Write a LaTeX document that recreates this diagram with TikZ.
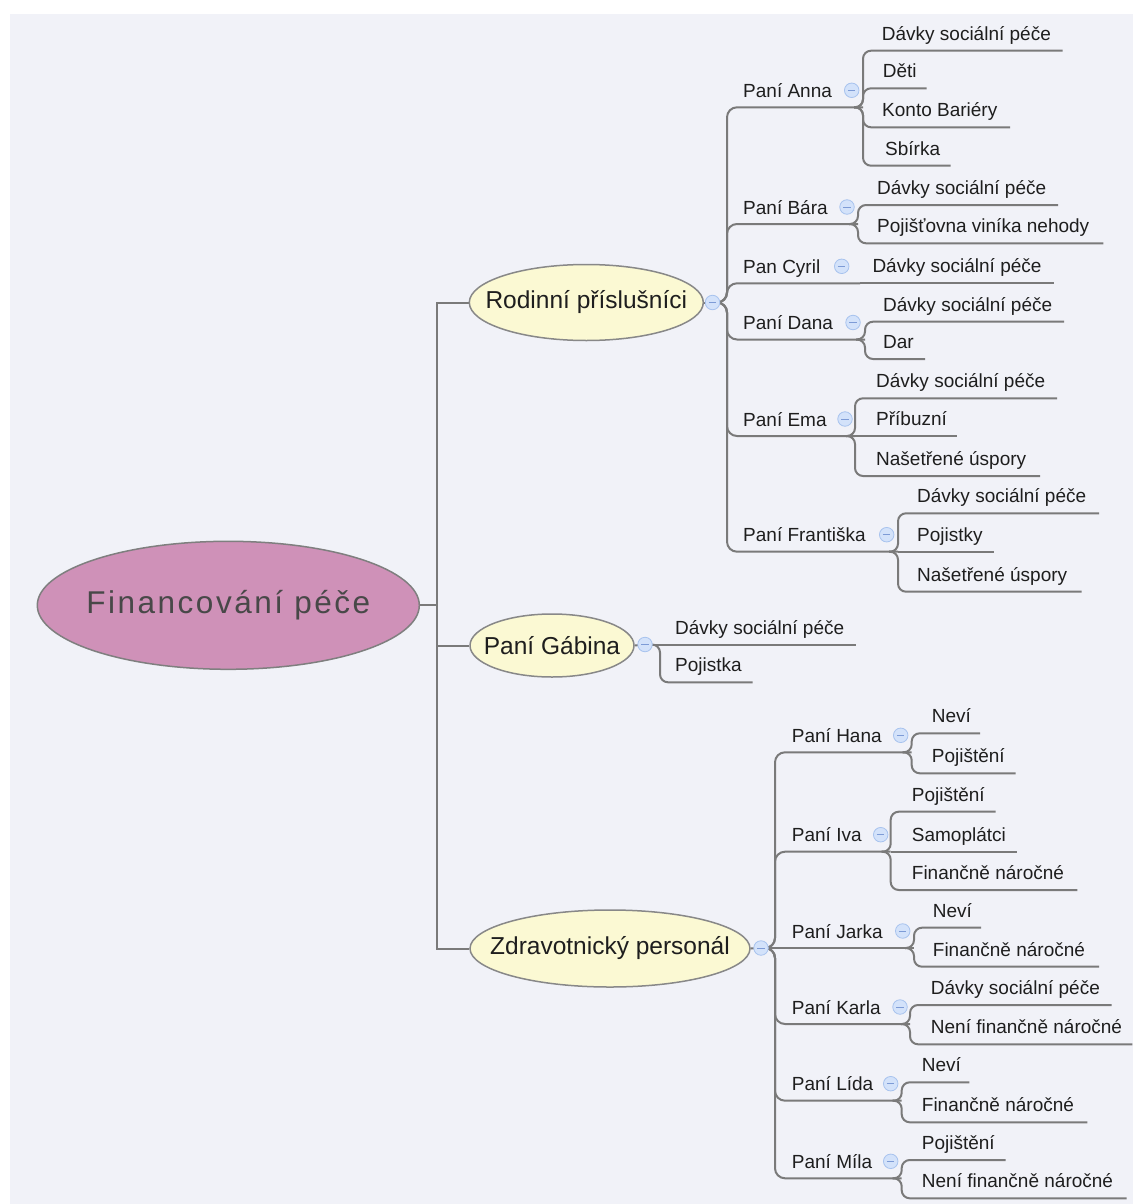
\documentclass[tikz,border=0pt]{standalone}
\usepackage{fontspec}
\setmainfont{Liberation Sans}
\newfontfamily\mainfnt[LetterSpace=8]{Liberation Sans}
\usetikzlibrary{shapes.geometric}
\definecolor{bgc}{HTML}{F1F2F8}
\definecolor{linec}{HTML}{7A7A7A}
\definecolor{mainfill}{HTML}{CF91B8}
\definecolor{mainborder}{HTML}{7F7F7F}
\definecolor{maintext}{HTML}{484848}
\definecolor{subfill}{HTML}{FBF9D3}
\definecolor{subborder}{HTML}{888888}
\definecolor{txt}{HTML}{1E1E1E}
\definecolor{colfill}{HTML}{D3E2FA}
\definecolor{colborder}{HTML}{A8C3EE}
\definecolor{colminus}{HTML}{7D9BD6}
\pgfdeclarelayer{bglayer}
\pgfdeclarelayer{linelayer}
\pgfsetlayers{bglayer,linelayer,main}
\newcommand{\mmleaf}[5]{\node[lbl] (#1) at (#2,#3-10.5) {#5}; \coordinate (#1-e) at (#4,#3);}
\newcommand{\mmperson}[6]{\node[lbl] (#1) at (#2,#3-10) {#6}; \coordinate (#1-e) at (#4,#3); \node[colbtn] (#1-b) at (#5,#3-17) {};}
\newcommand{\mmlink}[2]{\draw[conn] (#1) ++(-9,0) -- (#1) -- (#1 |- #2) -- (#2);}
\newcommand{\mmstraight}[2]{\draw[conn] (#1) -- (#2);}
\newcommand{\mmtrunk}[3]{\draw[conn, rounded corners=10pt] (#1) -- (#2) -- (#2 |- #3) -- (#3);}
\newcommand{\fixw}[1]{\makebox[0pt][c]{#1}}
\begin{document}
\begin{tikzpicture}[x=1pt,y=-1pt,
  conn/.style={draw=linec, line width=2pt, rounded corners=8pt},
  mline/.style={draw=linec, line width=2pt},
  lbl/.style={anchor=base west, inner sep=0pt, text=txt, font=\fontsize{19}{23}\selectfont},
  mainnode/.style={ellipse, draw=mainborder, line width=1.5pt, fill=mainfill, minimum width=382pt, minimum height=128pt, inner sep=0pt, text=maintext, font=\mainfnt\fontsize{31.5}{36}\selectfont},
  subnode/.style={ellipse, draw=subborder, line width=1.5pt, fill=subfill, inner sep=0pt, text=txt, font=\fontsize{24.5}{29}\selectfont},
  colbtn/.style={circle, draw=colborder, fill=colfill, line width=0.8pt, minimum size=14.5pt, inner sep=0pt,
    path picture={\draw[colminus, line width=1pt] ([xshift=3.5pt]path picture bounding box.west) -- ([xshift=-3.5pt]path picture bounding box.east);}}
]
\useasboundingbox (0,0) rectangle (1133,1204);
\begin{pgfonlayer}{bglayer}
\fill[white] (0,0) rectangle (1133,1204);
\fill[bgc] (10,14) rectangle (1133,1204);
\end{pgfonlayer}

% main and subtopics
\node[mainnode] (root) at (228.3,605.3) {\fixw{Financování péče}};
\node[subnode, minimum width=234pt, minimum height=76pt] (rp) at (586.3,302.5) {\fixw{Rodinní příslušníci}};
\node[subnode, minimum width=164pt, minimum height=63pt] (pg) at (552,645.5) {\fixw{Paní Gábina}};
\node[subnode, minimum width=280pt, minimum height=77pt] (zp) at (610,948.5) {\fixw{Zdravotnický personál}};
\node[colbtn] (rp-b) at (712.5,302.5) {};
\node[colbtn] (pg-b) at (645,644.5) {};
\node[colbtn] (zp-b) at (761,948) {};
\coordinate (t0) at (437,605.3);
\coordinate (rp-t) at (727,302.5);
\coordinate (pg-t) at (660,644.5);
\coordinate (zp-t) at (775,948);

% Rodinni prislusnici
\mmperson{anna}{743}{107.3}{863}{851.7}{Paní Anna}
\mmperson{bara}{743}{224}{858}{847}{Paní Bára}
\mmperson{cyril}{743}{283.3}{860}{841.7}{Pan Cyril}
\mmperson{dana}{743}{339.5}{865}{853}{Paní Dana}
\mmperson{ema}{743}{436}{855}{845}{Paní Ema}
\mmperson{frant}{743}{551.7}{898}{886.7}{Paní Františka}

\mmleaf{a1}{881.7}{50.7}{1062.7}{Dávky sociální péče}
\mmleaf{a2}{882.7}{88.3}{926.7}{Děti}
\mmleaf{a3}{882}{127.3}{1010}{Konto Bariéry}
\mmleaf{a4}{885}{165.7}{950.7}{Sbírka}
\mmleaf{b1}{877}{205}{1058}{Dávky sociální péče}
\mmleaf{b2}{877}{243.3}{1103.3}{Pojišťovna viníka nehody}
\mmleaf{c1}{872.3}{283.3}{1054}{Dávky sociální péče}
\mmleaf{d1}{883}{321.7}{1064}{Dávky sociální péče}
\mmleaf{d2}{883}{359}{925}{Dar}
\mmleaf{e1}{876}{398.3}{1057}{Dávky sociální péče}
\mmleaf{e2}{876}{436}{956.7}{Příbuzní}
\mmleaf{e3}{876}{476}{1040}{Našetřené úspory}
\mmleaf{f1}{917}{513.3}{1099}{Dávky sociální péče}
\mmleaf{f2}{917}{551.7}{994}{Pojistky}
\mmleaf{f3}{917}{591.7}{1081.7}{Našetřené úspory}

% Pani Gabina
\mmleaf{g1}{675}{644.5}{856}{Dávky sociální péče}
\mmleaf{g2}{675}{682.3}{752.7}{Pojistka}

% Zdravotnicky personal
\mmperson{hana}{791.7}{752.3}{911.7}{900.7}{Paní Hana}
\mmperson{iva}{791.7}{851.7}{890.7}{880.7}{Paní Iva}
\mmperson{jarka}{791.7}{948}{914}{902.7}{Paní Jarka}
\mmperson{karla}{791.7}{1024}{910}{900}{Paní Karla}
\mmperson{lida}{791.7}{1100.7}{901.7}{890.7}{Paní Lída}
\mmperson{mila}{791.7}{1178.3}{901.7}{890.7}{Paní Míla}

\mmleaf{h1}{931.7}{733.3}{980}{Neví}
\mmleaf{h2}{931.7}{773.3}{1015.7}{Pojištění}
\mmleaf{i1}{911.7}{811.7}{995.7}{Pojištění}
\mmleaf{i2}{911.7}{851.7}{1017.3}{Samoplátci}
\mmleaf{i3}{911.7}{890}{1077.3}{Finančně náročné}
\mmleaf{j1}{932.7}{927.7}{981}{Neví}
\mmleaf{j2}{932.7}{966.7}{1099}{Finančně náročné}
\mmleaf{k1}{930.7}{1005}{1111.7}{Dávky sociální péče}
\mmleaf{k2}{930.7}{1044.3}{1132.3}{Není finančně náročné}
\mmleaf{l1}{921.7}{1082.3}{969.3}{Neví}
\mmleaf{l2}{921.7}{1122.3}{1087.3}{Finančně náročné}
\mmleaf{m1}{921.7}{1160}{1005.7}{Pojištění}
\mmleaf{m2}{921.7}{1198.3}{1126.7}{Není finančně náročné}

\begin{pgfonlayer}{linelayer}
% level 1
\draw[mline] (root.east) -- (t0);
\draw[mline] (rp.west) -| (t0);
\draw[mline] (zp.west) -| (t0);
\draw[mline] (pg.west) -- (pg.west -| t0);
% level 2
\draw[mline] (rp.east) -- (rp-b.center);
\draw[mline] (pg.east) -- (pg-b.center);
\draw[mline] (zp.east) -- (zp-b.center);
\mmtrunk{rp-b.center}{rp-t}{anna-e}
\mmtrunk{rp-b.center}{rp-t}{bara-e}
\mmtrunk{rp-b.center}{rp-t}{cyril-e}
\mmtrunk{rp-b.center}{rp-t}{dana-e}
\mmtrunk{rp-b.center}{rp-t}{ema-e}
\mmtrunk{rp-b.center}{rp-t}{frant-e}
\mmstraight{pg-b.center}{g1-e}
\mmlink{pg-t}{g2-e}
\mmtrunk{zp-b.center}{zp-t}{hana-e}
\mmtrunk{zp-b.center}{zp-t}{iva-e}
\mmstraight{zp-b.center}{jarka-e}
\mmtrunk{zp-b.center}{zp-t}{karla-e}
\mmtrunk{zp-b.center}{zp-t}{lida-e}
\mmtrunk{zp-b.center}{zp-t}{mila-e}
% level 3
\mmlink{anna-e}{a1-e}
\mmlink{anna-e}{a2-e}
\mmlink{anna-e}{a3-e}
\mmlink{anna-e}{a4-e}
\mmlink{bara-e}{b1-e}
\mmlink{bara-e}{b2-e}
\mmstraight{cyril-e}{c1-e}
\mmlink{dana-e}{d1-e}
\mmlink{dana-e}{d2-e}
\mmlink{ema-e}{e1-e}
\mmstraight{ema-e}{e2-e}
\mmlink{ema-e}{e3-e}
\mmlink{frant-e}{f1-e}
\mmstraight{frant-e}{f2-e}
\mmlink{frant-e}{f3-e}
\mmlink{hana-e}{h1-e}
\mmlink{hana-e}{h2-e}
\mmlink{iva-e}{i1-e}
\mmstraight{iva-e}{i2-e}
\mmlink{iva-e}{i3-e}
\mmlink{jarka-e}{j1-e}
\mmlink{jarka-e}{j2-e}
\mmlink{karla-e}{k1-e}
\mmlink{karla-e}{k2-e}
\mmlink{lida-e}{l1-e}
\mmlink{lida-e}{l2-e}
\mmlink{mila-e}{m1-e}
\mmlink{mila-e}{m2-e}
\end{pgfonlayer}
\end{tikzpicture}
\end{document}
